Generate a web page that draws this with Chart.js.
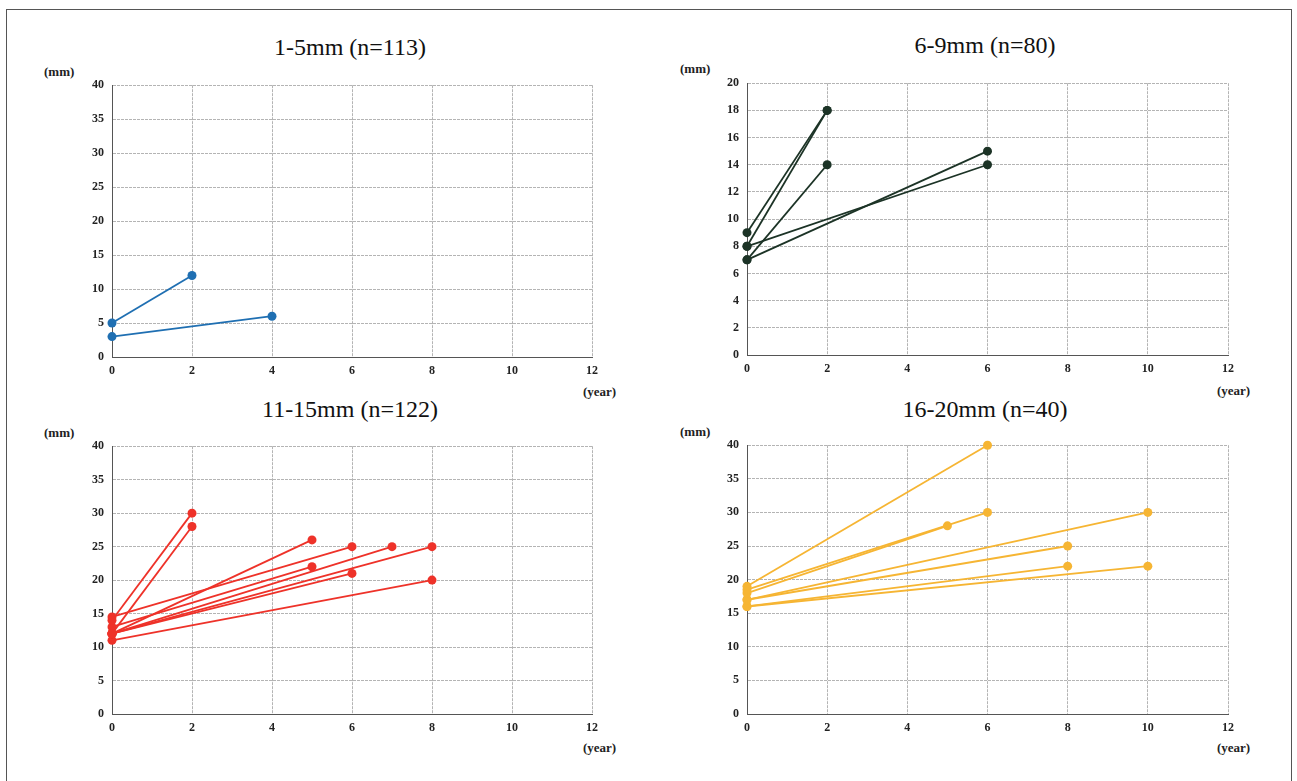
<!DOCTYPE html>
<html>
<head>
<meta charset="utf-8">
<script src="https://cdn.jsdelivr.net/npm/chart.js@4.4.1/dist/chart.umd.min.js"></script>
<style>
  body { margin: 0; background: #fff; width: 1297px; height: 781px; overflow: hidden; position: relative; font-family: "Liberation Serif", serif; }
  #frame { position: absolute; left: 6px; top: 9px; width: 1284px; height: 780px; border: 1px solid #555; border-bottom: none; }
  canvas { position: absolute; }
  .title { position: absolute; font-size: 24px; color: #111; transform: translateX(-50%); white-space: nowrap; }
  .unit { position: absolute; font-size: 13px; font-weight: bold; color: #222; white-space: nowrap; }
</style>
</head>
<body>
<div id="frame"></div>

<div class="title" style="left:350px; top:34px;">1-5mm (n=113)</div>
<div class="title" style="left:985px; top:32px;">6-9mm (n=80)</div>
<div class="title" style="left:350px; top:396px;">11-15mm (n=122)</div>
<div class="title" style="left:985px; top:396px;">16-20mm (n=40)</div>

<div class="unit" style="left:44px; top:64px;">(mm)</div>
<div class="unit" style="left:680px; top:61px;">(mm)</div>
<div class="unit" style="left:44px; top:425px;">(mm)</div>
<div class="unit" style="left:680px; top:424px;">(mm)</div>
<div class="unit" style="left:583px; top:384px;">(year)</div>
<div class="unit" style="left:1217px; top:383px;">(year)</div>
<div class="unit" style="left:583px; top:740px;">(year)</div>
<div class="unit" style="left:1217px; top:740px;">(year)</div>

<canvas id="c1" width="560" height="315" style="left:50px; top:70px;"></canvas>
<canvas id="c2" width="560" height="315" style="left:685px; top:68px;"></canvas>
<canvas id="c3" width="560" height="311" style="left:50px; top:431px;"></canvas>
<canvas id="c4" width="560" height="312" style="left:685px; top:430px;"></canvas>

<script>
// Chaque patient : taille au départ (année 0), année du dernier contrôle, taille finale
const xTicks = [0, 2, 4, 6, 8, 10, 12];

// 1-5mm
const p1Start = [5, 3];
const p1Year = [2, 4];
const p1End = [12, 6];

// 6-9mm
const p2Start = [9, 8, 7, 8, 7];
const p2Year = [2, 2, 2, 6, 6];
const p2End = [18, 18, 14, 14, 15];

// 11-15mm
const p3Start = [14, 12, 14.5, 12, 13, 12, 12, 12, 11];
const p3Year = [2, 2, 6, 5, 5, 7, 8, 6, 8];
const p3End = [30, 28, 25, 26, 22, 25, 25, 21, 20];

// 16-20mm
const p4Start = [19, 18.5, 18, 17, 17, 16, 16];
const p4Year = [6, 6, 5, 10, 8, 8, 10];
const p4End = [40, 30, 28, 30, 25, 22, 22];

function buildDatasets(starts, years, ends, color) {
  return starts.map((s, i) => ({
    data: [{ x: 0, y: s }, { x: years[i], y: ends[i] }],
    showLine: true,
    clip: false,
    borderColor: color,
    backgroundColor: color,
    borderWidth: 1.8,
    pointRadius: 4.5,
    pointBorderWidth: 0
  }));
}

function makeChart(canvasId, datasets, yMax, yStep, pad) {
  const tickFont = { family: '"Liberation Serif", serif', size: 12, weight: 'bold' };
  const grid = { color: '#b4b4b4', lineWidth: 1, drawTicks: false };
  return new Chart(document.getElementById(canvasId), {
    type: 'scatter',
    data: { datasets: datasets },
    options: {
      responsive: false,
      animation: false,
      layout: { padding: pad },
      plugins: { legend: { display: false }, tooltip: { enabled: false } },
      scales: {
        x: {
          type: 'linear', min: 0, max: 12,
          afterBuildTicks: s => { s.ticks = xTicks.map(v => ({ value: v })); },
          afterFit: s => { s.height = 24; },
          grid: grid,
          border: { display: true, color: '#555', dash: [3, 1] },
          ticks: { font: tickFont, color: '#222', padding: 7, maxRotation: 0 }
        },
        y: {
          type: 'linear', min: 0, max: yMax,
          afterFit: s => { s.width = 40; },
          grid: grid,
          border: { display: true, color: '#555', dash: [3, 1] },
          ticks: { stepSize: yStep, font: tickFont, color: '#222', padding: 8 }
        }
      }
    },
    plugins: [{
      id: 'dashGrid',
      beforeDraw: chart => {
        ['x', 'y'].forEach(k => { chart.scales[k].options.grid.borderDash = [4, 2]; });
      }
    }]
  });
}

makeChart('c1', buildDatasets(p1Start, p1Year, p1End, '#1f6fb2'), 40, 5, { left: 22, right: 18, top: 10, bottom: 4 });
makeChart('c2', buildDatasets(p2Start, p2Year, p2End, '#1c3326'), 20, 2, { left: 22, right: 17, top: 10, bottom: 4 });
makeChart('c3', buildDatasets(p3Start, p3Year, p3End, '#ee3229'), 40, 5, { left: 22, right: 18, top: 10, bottom: 4 });
makeChart('c4', buildDatasets(p4Start, p4Year, p4End, '#f6b533'), 40, 5, { left: 22, right: 17, top: 10, bottom: 4 });
</script>
</body>
</html>
